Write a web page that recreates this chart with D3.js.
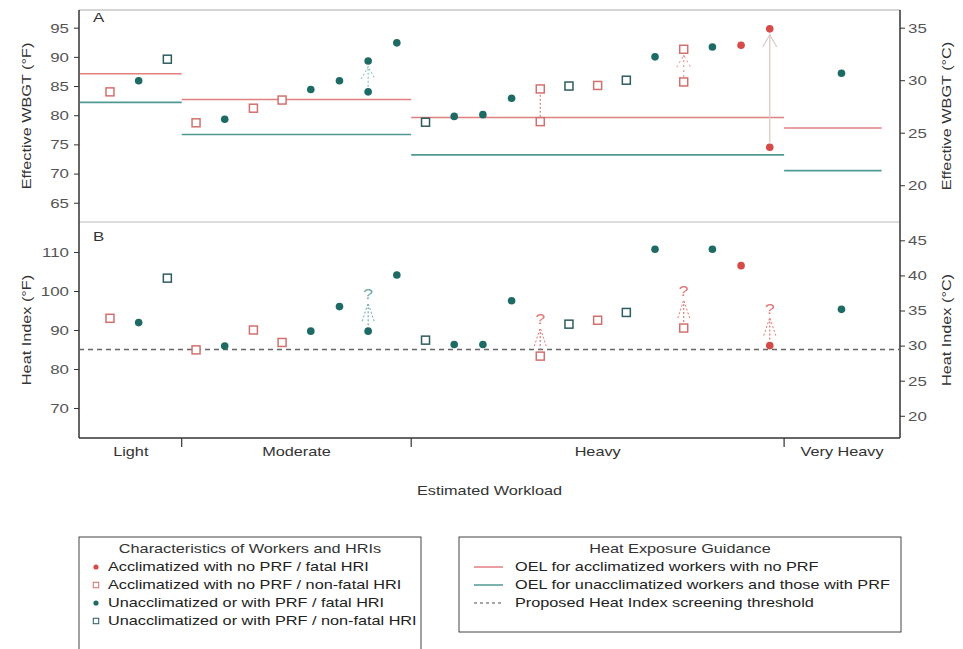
<!DOCTYPE html>
<html>
<head>
<meta charset="utf-8">
<script src="https://cdn.jsdelivr.net/npm/d3@7"></script>
<style>
body { margin:0; background:#fff; }
svg { font-family: "Liberation Sans", Arial, sans-serif; }
.tick text { fill:#555; font-size:13.5px; }
.tick line { stroke:#333; }
.domain { display:none; }
</style>
</head>
<body>
<div id="chart"></div>
<script>
// workload groups (x positions in case units)
var workloads = ["Light", "Moderate", "Heavy", "Very Heavy"];
var groupStart = [-1.05, 2.5, 10.5, 23.5];
var groupEnd = [2.5, 10.5, 23.5, 26.9];

// cases
var caseX = [0,1,2,3,4,5,6,7,8,9,10,11,12,13,14,15,16,17,18,19,20,21,22,23,25.5];
// AF acclim/fatal, AN acclim/non-fatal, UF unacclim/fatal, UN unacclim/non-fatal
var caseType = ["AN","UF","UN","AN","UF","AN","AN","UF","UF","UF","UF","UN","UF","UF","UF","AN","UN","AN","UN","UF","AN","UF","AF","AF","UF"];
var wbgt = [84.0,85.9,89.6,78.7,79.3,81.2,82.6,84.4,85.9,84.0,92.4,78.8,79.8,80.1,82.9,78.9,85.0,85.1,86.0,90.0,85.7,91.7,92.0,74.5,87.2];
var wbgtHigh = [null,null,null,null,null,null,null,null,null,89.3,null,null,null,null,null,84.5,null,null,null,null,91.3,null,null,94.8,null];
var heatIndex = [93.0,91.9,103.3,84.9,85.9,90.0,86.8,89.7,96.0,89.7,104.1,87.4,86.3,86.3,97.5,83.3,91.5,92.5,94.5,110.7,90.5,110.7,106.5,86.0,95.3];
var hiUnknown = [9, 15, 20, 23];

// guidance
var oelAccl = [87.1, 82.7, 79.6, 77.8];
var oelUnaccl = [82.2, 76.7, 73.2, 70.5];
var hiThreshold = 85;

var legendTypes = ["AF","AN","UF","UN"];
var legendTypeText = ["Acclimatized with no PRF / fatal HRI","Acclimatized with no PRF / non-fatal HRI","Unacclimatized or with PRF / fatal HRI","Unacclimatized or with PRF / non-fatal HRI"];
var legendLineText = ["OEL for acclimatized workers with no PRF","OEL for unacclimatized workers and those with PRF","Proposed Heat Index screening threshold"];

var RED = "#d64a48", REDSQ = "#d2706e", TEAL = "#1e6a64", TEALSQ = "#2f5c60";
var RED_LINE = "#e27f7f", TEAL_LINE = "#4f9a95";
var SX = 1.25; // text in the figure is set wide

var W = 963, H = 649;
var svg = d3.select("#chart").append("svg").attr("width", W).attr("height", H);

// text helper: wide glyphs via local x-scale
function label(g, tx, ty, str, size, anchor, rot, col) {
  return g.append("text")
    .attr("transform", "translate(" + tx + "," + ty + ")" + (rot ? " rotate(" + rot + ")" : "") + " scale(" + SX + ",1)")
    .attr("text-anchor", anchor || "start").attr("font-size", size).attr("fill", col || "#333").text(str);
}
function widen(sel) {
  sel.selectAll(".tick text").each(function() {
    var t = d3.select(this), xx = +t.attr("x");
    t.attr("x", 0).attr("transform", "translate(" + xx + ",0) scale(" + SX + ",1)");
  });
}

var L = 79, R = 900, topA = 10, mid = 222, bot = 438;
var x = d3.scaleLinear().domain([-1.08, 27.54]).range([L, R]);
var yA = d3.scaleLinear().domain([61.7, 98.03]).range([mid, topA]);
var yB = d3.scaleLinear().domain([62.3, 117.7]).range([bot, mid]);
var toC = function(f){ return (f - 32) * 5 / 9; };
var yAC = d3.scaleLinear().domain(yA.domain().map(toC)).range(yA.range());
var yBC = d3.scaleLinear().domain(yB.domain().map(toC)).range(yB.range());

// frame
svg.append("line").attr("x1", L).attr("x2", R).attr("y1", topA).attr("y2", topA).attr("stroke", "#aaa");
svg.append("line").attr("x1", L).attr("x2", R).attr("y1", mid).attr("y2", mid).attr("stroke", "#ddd").attr("stroke-width", 2);
svg.append("line").attr("x1", L).attr("x2", L).attr("y1", topA).attr("y2", bot).attr("stroke", "#333").attr("stroke-width", 1.5);
svg.append("line").attr("x1", R).attr("x2", R).attr("y1", topA).attr("y2", bot).attr("stroke", "#333").attr("stroke-width", 1.5);
svg.append("line").attr("x1", L).attr("x2", R).attr("y1", bot).attr("y2", bot).attr("stroke", "#333").attr("stroke-width", 1.5);

// axes
svg.append("g").attr("transform", "translate(" + L + ",0)")
  .call(d3.axisLeft(yA).tickValues([65,70,75,80,85,90,95]).tickSize(5).tickPadding(5)).call(widen);
svg.append("g").attr("transform", "translate(" + L + ",0)")
  .call(d3.axisLeft(yB).tickValues([70,80,90,100,110]).tickSize(5).tickPadding(5)).call(widen);
svg.append("g").attr("transform", "translate(" + R + ",0)")
  .call(d3.axisRight(yAC).tickValues([20,25,30,35]).tickSize(5).tickPadding(3)).call(widen);
svg.append("g").attr("transform", "translate(" + R + ",0)")
  .call(d3.axisRight(yBC).tickValues([20,25,30,35,40,45]).tickSize(5).tickPadding(3)).call(widen);

// x category ticks and labels
svg.selectAll(".xdiv").data(groupEnd.slice(0, 3)).enter().append("line")
  .attr("x1", function(d){ return x(d); }).attr("x2", function(d){ return x(d); })
  .attr("y1", bot).attr("y2", bot + 9).attr("stroke", "#333").attr("stroke-width", 1.2);
workloads.forEach(function(w, i) {
  var cx = (x(Math.max(groupStart[i], -1.08)) + x(i == 3 ? 27.54 : groupEnd[i])) / 2;
  label(svg, cx, 456, w, 13, "middle");
});
label(svg, (L + R) / 2, 495, "Estimated Workload", 13, "middle");

// axis titles
label(svg, 31, 116, "Effective WBGT (°F)", 13, "middle", -90);
label(svg, 31, 330, "Heat Index (°F)", 13, "middle", -90);
label(svg, 951, 116, "Effective WBGT (°C)", 13, "middle", -90);
label(svg, 951, 330, "Heat Index (°C)", 13, "middle", -90);

label(svg, 93, 22, "A", 13.5, "start");
label(svg, 93, 241, "B", 13.5, "start");

// OEL lines (panel A)
svg.selectAll(".oelA").data(oelAccl).enter().append("line")
  .attr("x1", function(d, i){ return x(groupStart[i]); }).attr("x2", function(d, i){ return x(groupEnd[i]); })
  .attr("y1", function(d){ return yA(d); }).attr("y2", function(d){ return yA(d); })
  .attr("stroke", RED_LINE).attr("stroke-width", 1.6);
svg.selectAll(".oelU").data(oelUnaccl).enter().append("line")
  .attr("x1", function(d, i){ return x(groupStart[i]); }).attr("x2", function(d, i){ return x(groupEnd[i]); })
  .attr("y1", function(d){ return yA(d); }).attr("y2", function(d){ return yA(d); })
  .attr("stroke", TEAL_LINE).attr("stroke-width", 1.6);

// HI threshold (panel B)
svg.append("line").attr("x1", L).attr("x2", R).attr("y1", yB(hiThreshold)).attr("y2", yB(hiThreshold))
  .attr("stroke", "#666").attr("stroke-width", 1.3).attr("stroke-dasharray", "5,4");

// range arrows in panel A
var arrowStyle = { 9: ["#8cc9c4", "2,2", true], 15: ["#d88a8a", "2,2", false], 20: ["#e6a0a0", "2,3", true], 23: ["#ddc8c8", null, true] };
wbgtHigh.forEach(function(h, i) {
  if (h == null) return;
  var st = arrowStyle[i], cx = x(caseX[i]);
  var y0 = yA(wbgt[i]), y1 = yA(h);
  var ln = svg.append("line").attr("x1", cx).attr("x2", cx).attr("y1", y0 - 5).attr("y2", y1 + 5)
    .attr("stroke", st[0]).attr("stroke-width", 1.3);
  if (st[1]) ln.attr("stroke-dasharray", st[1]);
  if (st[2]) {
    svg.append("path").attr("d", "M" + (cx - 7) + "," + (y1 + 18) + "L" + cx + "," + (y1 + 6) + "L" + (cx + 7) + "," + (y1 + 18))
      .attr("fill", "none").attr("stroke", st[0]).attr("stroke-width", 1.1).attr("stroke-dasharray", st[1] || null);
  }
});

// unknown upper heat index in panel B
hiUnknown.forEach(function(i) {
  var cx = x(caseX[i]), cy = yB(heatIndex[i]);
  var col = caseType[i][0] == "U" ? "#6fa8a4" : "#e07878";
  svg.append("line").attr("x1", cx).attr("x2", cx).attr("y1", cy - 6).attr("y2", cy - 27)
    .attr("stroke", col).attr("stroke-width", 1.2).attr("stroke-dasharray", "2,2");
  svg.append("path").attr("d", "M" + (cx - 6) + "," + (cy - 10) + "L" + cx + "," + (cy - 28) + "L" + (cx + 6) + "," + (cy - 10))
    .attr("fill", "none").attr("stroke", col).attr("stroke-width", 1).attr("stroke-dasharray", "2,2");
  label(svg, cx, cy - 32, "?", 14, "middle", 0, col);
});

// markers
function drawMarker(g, t, cx, cy, s) {
  s = s || 1;
  if (t[1] == "F") {
    g.append("circle").attr("cx", cx).attr("cy", cy).attr("r", 3.8 * s).attr("fill", t[0] == "A" ? RED : TEAL);
  } else {
    g.append("rect").attr("x", cx - 4 * s).attr("y", cy - 4 * s).attr("width", 8 * s).attr("height", 8 * s)
      .attr("fill", "#fff").attr("stroke", t[0] == "A" ? REDSQ : TEALSQ).attr("stroke-width", 1.5 * s);
  }
}
var gm = svg.append("g");
caseType.forEach(function(t, i) {
  drawMarker(gm, t, x(caseX[i]), yA(wbgt[i]));
  if (wbgtHigh[i] != null) drawMarker(gm, t, x(caseX[i]), yA(wbgtHigh[i]));
  drawMarker(gm, t, x(caseX[i]), yB(heatIndex[i]));
});

// legends
var lg1 = svg.append("g");
lg1.append("rect").attr("x", 79).attr("y", 537).attr("width", 342).attr("height", 130)
  .attr("fill", "none").attr("stroke", "#444");
label(lg1, 250, 553, "Characteristics of Workers and HRIs", 13, "middle");
legendTypes.forEach(function(t, i) {
  var yy = 571 + i * 18;
  drawMarker(lg1, t, 96, yy - 4, 0.68);
  label(lg1, 108, yy, legendTypeText[i], 13, "start", 0, "#222");
});

var lg2 = svg.append("g");
lg2.append("rect").attr("x", 459).attr("y", 537).attr("width", 442).attr("height", 95)
  .attr("fill", "none").attr("stroke", "#444");
label(lg2, 680, 553, "Heat Exposure Guidance", 13, "middle");
var lineCols = [RED_LINE, TEAL_LINE, "#888"];
legendLineText.forEach(function(t, i) {
  var yy = 571 + i * 18;
  var ln = lg2.append("line").attr("x1", 474).attr("x2", 503).attr("y1", yy - 4).attr("y2", yy - 4)
    .attr("stroke", lineCols[i]).attr("stroke-width", 1.5);
  if (i == 2) ln.attr("stroke-dasharray", "3,3");
  label(lg2, 515, yy, t, 13, "start", 0, "#222");
});
</script>
</body>
</html>
